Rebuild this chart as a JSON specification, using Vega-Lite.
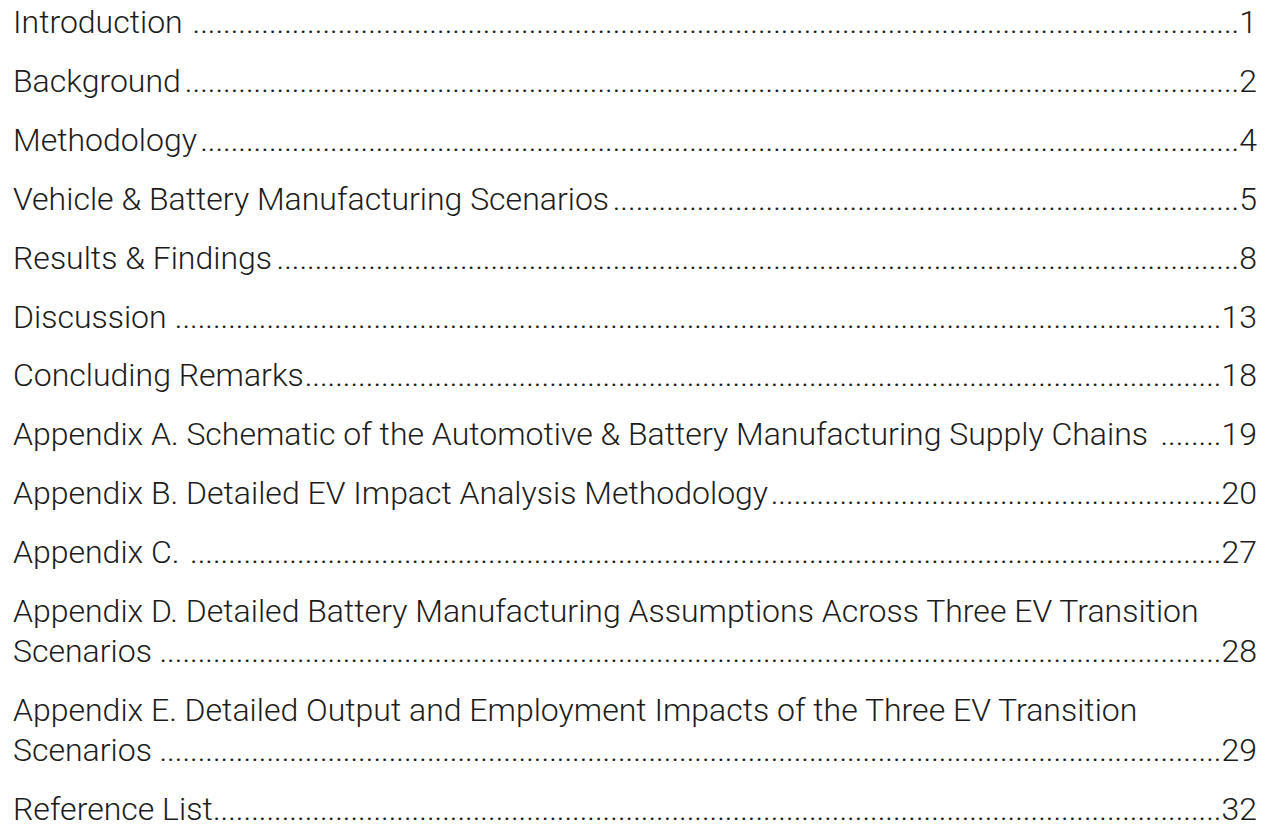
{
  "$schema": "https://vega.github.io/schema/vega-lite/v6.json",
  "width": 1244,
  "height": 787,
  "autosize": {"type": "none"},
  "padding": {"left": 13, "right": 14, "top": 33, "bottom": 15},
  "background": "white",
  "config": {"view": {"stroke": null}},
  "data": {
    "values": [
      {"line": 0, "title": "Introduction", "page": "1", "leader": ".........................................................................................................................................1"},
      {"line": 1, "title": "Background", "page": "2", "leader": "..........................................................................................................................................2"},
      {"line": 2, "title": "Methodology", "page": "4", "leader": "........................................................................................................................................4"},
      {"line": 3, "title": "Vehicle & Battery Manufacturing Scenarios", "page": "5", "leader": "..................................................................................5"},
      {"line": 4, "title": "Results & Findings", "page": "8", "leader": "..............................................................................................................................8"},
      {"line": 5, "title": "Discussion", "page": "13", "leader": ".........................................................................................................................................13"},
      {"line": 6, "title": "Concluding Remarks", "page": "18", "leader": "........................................................................................................................18"},
      {"line": 7, "title": "Appendix A. Schematic of the Automotive & Battery Manufacturing Supply Chains", "page": "19", "leader": "........19"},
      {"line": 8, "title": "Appendix B. Detailed EV Impact Analysis Methodology", "page": "20", "leader": "...........................................................20"},
      {"line": 9, "title": "Appendix C.", "page": "27", "leader": ".......................................................................................................................................27"},
      {"line": 10, "title": "Appendix D. Detailed Battery Manufacturing Assumptions Across Three EV Transition", "page": "", "leader": ""},
      {"line": 10.679, "title": "Scenarios", "page": "28", "leader": "...........................................................................................................................................28"},
      {"line": 11.679, "title": "Appendix E. Detailed Output and Employment Impacts of the Three EV Transition", "page": "", "leader": ""},
      {"line": 12.358, "title": "Scenarios", "page": "29", "leader": "...........................................................................................................................................29"},
      {"line": 13.358, "title": "Reference List", "page": "32", "leader": "....................................................................................................................................32"}
    ]
  },
  "encoding": {
    "y": {"field": "line", "type": "quantitative", "axis": null, "scale": {"domain": [0, 13.358], "reverse": true, "nice": false, "zero": false}}
  },
  "layer": [
    {
      "mark": {"type": "text", "align": "left", "baseline": "alphabetic", "font": "Roboto Light, Roboto", "fontSize": 32, "fontWeight": 300, "color": "#1c1c1c"},
      "encoding": {
        "x": {"datum": 0, "type": "quantitative", "axis": null, "scale": {"domain": [0, 1], "nice": false, "zero": false}},
        "text": {"field": "title"}
      }
    },
    {
      "mark": {"type": "text", "align": "right", "baseline": "alphabetic", "font": "Roboto Light, Roboto", "fontSize": 32, "fontWeight": 300, "color": "#1c1c1c"},
      "encoding": {
        "x": {"datum": 1, "type": "quantitative", "axis": null, "scale": {"domain": [0, 1], "nice": false, "zero": false}},
        "text": {"field": "leader"}
      }
    }
  ]
}
